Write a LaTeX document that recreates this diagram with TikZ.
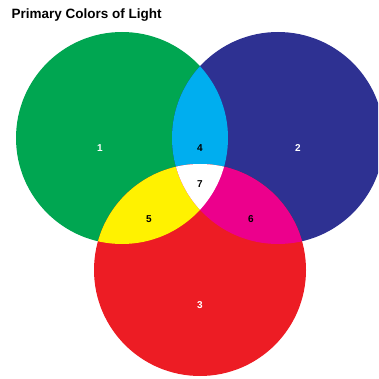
\documentclass[tikz,border=0pt]{standalone}
\usepackage{fontspec}
\setmainfont{Liberation Sans}
\usetikzlibrary{positioning}
\definecolor{lightgreen}{HTML}{00A651}
\definecolor{lightblue}{HTML}{2E3192}
\definecolor{lightred}{HTML}{ED1C24}
\definecolor{mixcyan}{HTML}{00AEEF}
\definecolor{mixyellow}{HTML}{FFF200}
\definecolor{mixmagenta}{HTML}{EC008C}
\tikzset{num/.style={font=\fontsize{10}{12}\selectfont\bfseries,text=black,inner sep=1pt}, wnum/.style={num,text=white}, heading/.style={font=\fontsize{13.5}{16}\selectfont\bfseries,anchor=base west,inner sep=0pt}}

\begin{document}
\begin{tikzpicture}[x=1pt,y=-1pt]
\useasboundingbox (0,0) rectangle (378,379);
\clip (0,0) rectangle (378,379);
\coordinate (g) at (122,138);\coordinate (b) at (278,138);\coordinate (r) at (200,270);
% the three lights
\fill[lightgreen] (g) circle[radius=106pt];\fill[lightblue] (b) circle[radius=106pt];\fill[lightred] (r) circle[radius=106pt];
% pairwise mixes
\begin{scope}\clip (g) circle[radius=106pt];\fill[mixcyan] (b) circle[radius=106pt];\fill[mixyellow] (r) circle[radius=106pt];\end{scope}
\begin{scope}\clip (b) circle[radius=106pt];\fill[mixmagenta] (r) circle[radius=106pt];\end{scope}
% all three
\begin{scope}\clip (g) circle[radius=106pt];\clip (b) circle[radius=106pt];\fill[white] (r) circle[radius=106pt];\end{scope}
\node[heading](title) at (11.5,18.3){Primary Colors of Light};
\node[wnum](n1) at (100,148){1};\node[wnum](n2) at (298,148){2};\node[wnum](n3) at (200,305){3};
\node[num](n4) at (200,148){4};\node[num](n5) at (149,219){5};\node[num](n6) at (251,219){6};\node[num](n7) at (200,184){7};
\end{tikzpicture}
\end{document}
